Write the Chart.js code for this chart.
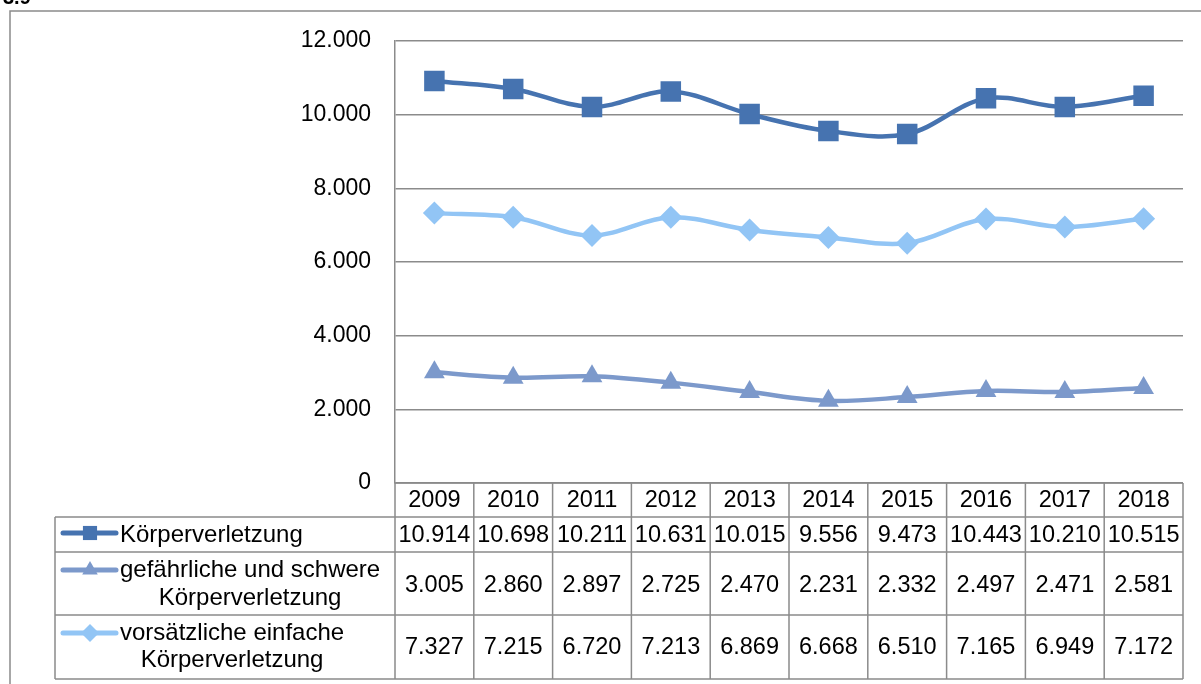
<!DOCTYPE html>
<html lang="de">
<head>
<meta charset="utf-8">
<title>Körperverletzung 2009–2018</title>
<script src="https://cdn.jsdelivr.net/npm/chart.js@4/dist/chart.umd.min.js"></script>
<style>
  html, body { margin: 0; padding: 0; background: #fff; }
  canvas { display: block; }
</style>
</head>
<body>
<canvas id="c" width="1201" height="684"></canvas>
<script>
// Jahre und Fallzahlen
const years = ['2009', '2010', '2011', '2012', '2013', '2014', '2015', '2016', '2017', '2018'];
const koerperverletzung = [10914, 10698, 10211, 10631, 10015, 9556, 9473, 10443, 10210, 10515];
const gefaehrlicheSchwere = [3005, 2860, 2897, 2725, 2470, 2231, 2332, 2497, 2471, 2581];
const vorsaetzlicheEinfache = [7327, 7215, 6720, 7213, 6869, 6668, 6510, 7165, 6949, 7172];
const yTicks = [0, 2000, 4000, 6000, 8000, 10000, 12000];

const FONT = "'Liberation Sans', Arial, sans-serif";
const TICK_SIZE = 23;
const VALUE_SIZE = 23.5;
const LABEL_SIZE = 24;
const GRID = '#8b8b8b';

// Zahlen mit Tausenderpunkt
function fmt(n) {
  return String(n).replace(/\B(?=(\d{3})+(?!\d))/g, '.');
}

const series = [
  { label: ['Körperverletzung'], data: koerperverletzung, color: '#4673b0', style: 'rect', radius: 14.5 },
  { label: ['gefährliche und schwere', 'Körperverletzung'], data: gefaehrlicheSchwere, color: '#7c99cb', style: 'triangle', radius: 12 },
  { label: ['vorsätzliche einfache', 'Körperverletzung'], data: vorsaetzlicheEinfache, color: '#92c5f5', style: 'rectRot', radius: 11.5 }
];

function drawMarker(ctx, style, x, y, r) {
  ctx.beginPath();
  if (style === 'rect') {
    const s = Math.SQRT1_2 * r;
    ctx.rect(x - s, y - s, 2 * s, 2 * s);
  } else if (style === 'triangle') {
    ctx.moveTo(x, y - r);
    ctx.lineTo(x + r * 0.866, y + r * 0.5);
    ctx.lineTo(x - r * 0.866, y + r * 0.5);
    ctx.closePath();
  } else {
    ctx.moveTo(x - r, y);
    ctx.lineTo(x, y - r);
    ctx.lineTo(x + r, y);
    ctx.lineTo(x, y + r);
    ctx.closePath();
  }
  ctx.fill();
}

// Datentabelle unter dem Diagramm, an den Spalten der x-Achse ausgerichtet
const dataTable = {
  id: 'dataTable',
  afterDraw(chart) {
    const { ctx, chartArea, scales } = chart;
    const x = scales.x;
    const L = chartArea.left, R = chartArea.right, T = chartArea.bottom;
    const colW = (R - L) / years.length;
    const legendLeft = 55;
    const rowLines = [T, T + 34, T + 69, T + 132, T + 196];
    const valueBase = [T + 59, T + 109, T + 171];
    const labelBase = [[T + 59], [T + 94, T + 122], [T + 157, T + 184]];
    const keyY = [T + 50, T + 87, T + 150];

    ctx.save();
    ctx.strokeStyle = GRID;
    ctx.lineWidth = 1.5;
    ctx.beginPath();
    // waagerechte Linien
    ctx.moveTo(L, rowLines[0]); ctx.lineTo(R, rowLines[0]);
    for (let i = 1; i < rowLines.length; i++) {
      ctx.moveTo(legendLeft, rowLines[i]); ctx.lineTo(R, rowLines[i]);
    }
    // senkrechte Linien
    for (let i = 0; i <= years.length; i++) {
      const cx = L + i * colW;
      ctx.moveTo(cx, rowLines[0]); ctx.lineTo(cx, rowLines[4]);
    }
    ctx.moveTo(legendLeft, rowLines[1]); ctx.lineTo(legendLeft, rowLines[4]);
    ctx.stroke();

    ctx.fillStyle = '#000';
    ctx.font = VALUE_SIZE + 'px ' + FONT;
    ctx.textBaseline = 'alphabetic';
    ctx.textAlign = 'center';
    years.forEach((yr, i) => {
      ctx.fillText(yr, x.getPixelForValue(i), T + 24);
    });
    series.forEach((s, r) => {
      s.data.forEach((v, i) => {
        ctx.fillText(fmt(v), x.getPixelForValue(i), valueBase[r]);
      });
    });

    // Legendenspalte
    series.forEach((s, r) => {
      const ky = keyY[r];
      ctx.strokeStyle = s.color;
      ctx.lineWidth = 5;
      ctx.lineCap = 'round';
      ctx.beginPath();
      ctx.moveTo(63, ky); ctx.lineTo(116, ky);
      ctx.stroke();
      ctx.fillStyle = s.color;
      drawMarker(ctx, s.style, 90, ky, s.style === 'rect' ? 10 : 9);

      ctx.fillStyle = '#000';
      ctx.font = LABEL_SIZE + 'px ' + FONT;
      const textLeft = 120;
      const w0 = ctx.measureText(s.label[0]).width;
      const center = textLeft + w0 / 2;
      ctx.textAlign = 'center';
      s.label.forEach((line, k) => {
        ctx.fillText(line, center, labelBase[r][k]);
      });
    });

    // Rahmen und angeschnittene Überschrift
    ctx.strokeStyle = GRID;
    ctx.lineWidth = 1.5;
    ctx.lineCap = 'butt';
    ctx.beginPath();
    ctx.moveTo(10, 684); ctx.lineTo(10, 11); ctx.lineTo(1201, 11);
    ctx.stroke();
    ctx.fillStyle = '#000';
    ctx.textAlign = 'left';
    ctx.font = 'bold 20px ' + FONT;
    ctx.fillText('3.9', 3, 4);
    ctx.restore();
  }
};

new Chart(document.getElementById('c'), {
  type: 'line',
  data: {
    labels: years,
    datasets: series.map(s => ({
      label: s.label.join(' '),
      data: s.data,
      borderColor: s.color,
      backgroundColor: s.color,
      borderWidth: 4.5,
      pointStyle: s.style,
      pointRadius: s.radius,
      pointHoverRadius: s.radius,
      pointBorderWidth: 0,
      pointBackgroundColor: s.color,
      tension: 0.35,
      fill: false
    }))
  },
  options: {
    responsive: false,
    animation: false,
    devicePixelRatio: 1,
    layout: { padding: { left: 0, top: 41, right: 18, bottom: 201 } },
    plugins: {
      legend: { display: false },
      tooltip: { enabled: false }
    },
    scales: {
      x: {
        display: false,
        offset: true
      },
      y: {
        min: 0,
        max: 12000,
        afterBuildTicks(scale) { scale.ticks = yTicks.map(v => ({ value: v })); },
        afterFit(scale) { scale.width = 395; },
        border: { display: true, color: GRID, width: 1.5 },
        grid: { color: GRID, lineWidth: 1.5, drawTicks: false },
        ticks: {
          padding: 24,
          color: '#000',
          font: { family: FONT, size: TICK_SIZE },
          callback: v => fmt(v)
        }
      }
    }
  },
  plugins: [dataTable]
});
</script>
</body>
</html>
